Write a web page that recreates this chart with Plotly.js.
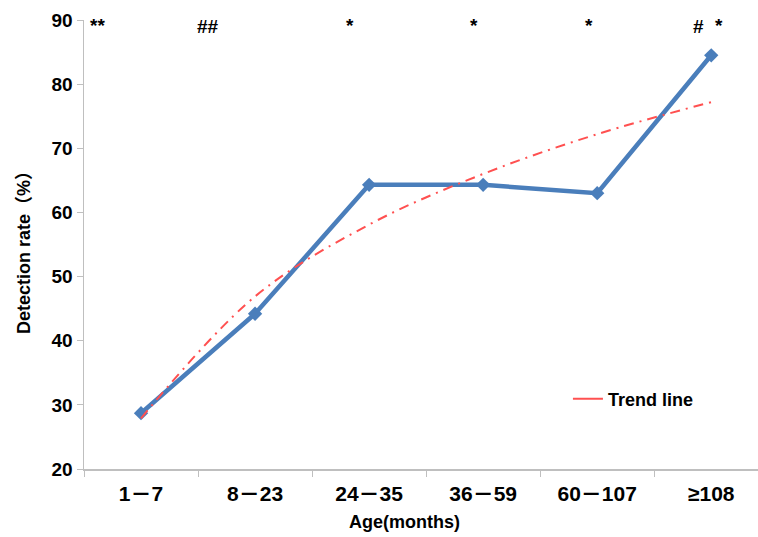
<!DOCTYPE html>
<html>
<head>
<meta charset="utf-8">
<script src="https://cdn.plot.ly/plotly-3.0.1.min.js"></script>
<style>html,body{margin:0;padding:0;background:#fff;}#chart{width:758px;height:537px;}</style>
</head>
<body>
<div id="chart"></div>
<script>
var categories = ["1\uff0d7", "8\uff0d23", "24\uff0d35", "36\uff0d59", "60\uff0d107", "\u2265108"];
var detectionRate = [28.7, 44.2, 64.3, 64.3, 63.0, 84.5];
var trendValues = [27.9, 46.9, 58.1, 66.0, 72.2, 77.2];
var markText = ["**", "##", "*", "*", "*", "#", "*"];
var markCat = [0, 1, 2, 3, 4, 5, 5];

var markDx = [-0.38, -0.41, -0.17, -0.08, -0.07, -0.11, 0.07];
var markY = [25, 27, 25, 25, 25, 27, 25];

var FONT = 'Liberation Sans, Arial, "Noto Sans CJK SC", sans-serif';

var traces = [
  {
    x: categories, y: detectionRate, type: 'scatter', mode: 'lines+markers',
    line: {color: '#4a7ebb', width: 4.5},
    marker: {symbol: 'diamond', size: 11, color: '#4a7ebb'},
    showlegend: false, name: 'Detection rate'
  },
  {
    x: categories, y: trendValues, type: 'scatter', mode: 'lines',
    line: {color: '#ff5050', width: 2, dash: '10px,6px,2px,6px', shape: 'spline', smoothing: 1},
    name: 'Trend line', showlegend: false
  },
  {
    x: [null], y: [null], type: 'scatter', mode: 'lines',
    line: {color: '#ff5050', width: 2},
    name: 'Trend line', showlegend: true
  }
];

var annotations = markText.map(function(t, i){
  return {
    text: t, x: markCat[i] + markDx[i], xref: 'x',
    y: 1 - (markY[i] - 20) / 449, yref: 'paper', yanchor: 'middle', xanchor: 'center',
    showarrow: false, font: {family: FONT, size: 19, color: '#000', weight: 'bold'}
  };
});
annotations.push({
  text: 'Age(months)', xref: 'paper', yref: 'paper', x: (404 - 84) / 674, y: -(522 - 469) / 449,
  xanchor: 'center', yanchor: 'middle', showarrow: false,
  font: {family: FONT, size: 18, color: '#000', weight: 'bold'}
});
annotations.push({
  text: 'Detection rate\uff08%\uff09', xref: 'paper', yref: 'paper', x: (24 - 84) / 674, y: 1 - (248 - 20) / 449,
  xanchor: 'center', yanchor: 'middle', showarrow: false, textangle: -90,
  font: {family: FONT, size: 18, color: '#000', weight: 'bold'}
});

var layout = {
  width: 758, height: 537,
  margin: {l: 84, r: 0, t: 20, b: 68},
  paper_bgcolor: '#fff', plot_bgcolor: '#fff',
  font: {family: FONT, color: '#000'},
  xaxis: {
    type: 'category', range: [-0.5, 5.41],
    tickson: 'boundaries', ticks: 'outside', ticklen: 6, tickcolor: '#bfbfbf',
    ticklabelstandoff: 5,
    showline: true, linecolor: '#bfbfbf', linewidth: 1.5, showgrid: false, zeroline: false,
    tickfont: {family: FONT, size: 21, color: '#000', weight: 'bold'}
  },
  yaxis: {
    range: [20, 90], tickvals: [20, 30, 40, 50, 60, 70, 80, 90],
    ticks: 'outside', ticklen: 6, tickcolor: '#bfbfbf',
    showline: true, linecolor: '#bfbfbf', linewidth: 1.5, showgrid: false, zeroline: false,
    tickfont: {family: FONT, size: 19, color: '#000', weight: 'bold'}
  },
  legend: {
    x: 0.718, y: 0.156, xanchor: 'left', yanchor: 'middle', bgcolor: 'rgba(0,0,0,0)',
    font: {family: FONT, size: 18, color: '#000', weight: 'bold'}
  },
  annotations: annotations
};

Plotly.newPlot('chart', traces, layout, {displayModeBar: false, staticPlot: true});
</script>
</body>
</html>
